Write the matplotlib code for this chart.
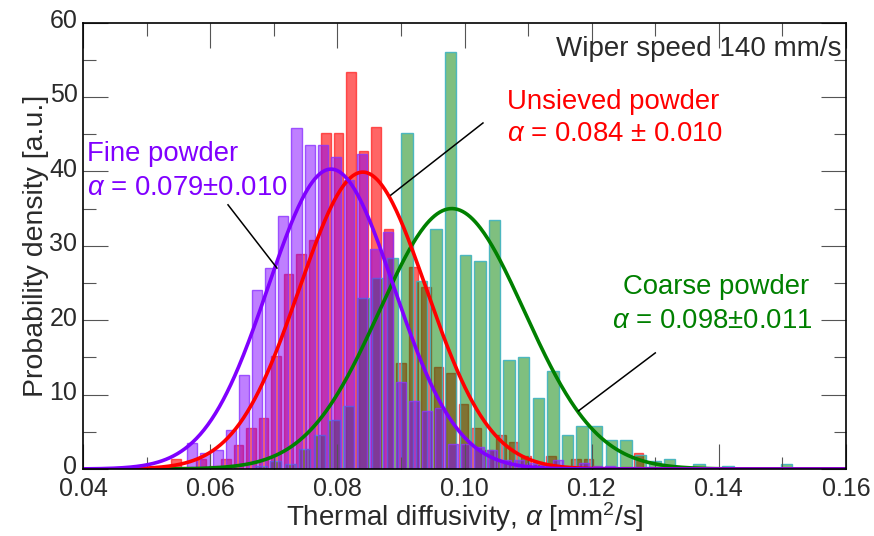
import numpy as np
import matplotlib.pyplot as plt
import matplotlib.transforms as mtransforms
from matplotlib.ticker import MultipleLocator

plt.rcParams['font.family'] = ['Liberation Sans', 'DejaVu Sans']
plt.rcParams['mathtext.fontset'] = 'custom'
plt.rcParams['mathtext.rm'] = 'Liberation Sans'
plt.rcParams['mathtext.it'] = 'Liberation Sans:italic'

# histogram data: first bin centre, bin width, bar heights
fine_start, fine_step = 0.05509, 0.002054
fine_hist = [0.3, 3.5, 2.2, 2.55, 5.2, 12.6, 24.0, 27.0, 34.0, 45.8, 43.5, 43.5,
             41.9, 38.8, 42.3, 29.6, 31.8, 11.7, 9.1, 7.8, 8.2, 3.4, 3.4, 3.0,
             2.55, 1.2, 1.2, 0.85, 0.6, 1.2, 0.4, 0.8, 0.4, 0.4, 0.2, 0.3, 0.3]

unsieved_start, unsieved_step = 0.05266, 0.001965
unsieved_hist = [0.3, 1.3, 0.3, 1.3, 0.4, 1.3, 3.2, 5.5, 6.8, 15.2, 26.2, 28.9,
                 30.8, 45.1, 45.1, 53.4, 42.7, 46.0, 32.2, 14.2, 27.1, 24.4, 13.75,
                 12.9, 8.7, 5.5, 2.6, 4.6, 3.6, 1.7, 0.5, 1.8, 0.3, 1.3, 1.3, 0.3,
                 0.3, 0.3, 2.2]

coarse_start, coarse_step = 0.06799, 0.002296
coarse_hist = [0.4, 1.1, 0.7, 2.7, 4.6, 6.6, 8.5, 23.0, 25.7, 28.3, 45.1, 25.2,
               32.2, 56.0, 28.7, 28.0, 33.4, 14.7, 15.1, 9.6, 13.2, 4.6, 5.8, 5.8,
               3.9, 3.9, 1.9, 1.1, 1.4, 0.3, 0.7, 0.0, 0.4, 0.0, 0.0, 0.0, 0.7]

# normal fits (mean, sd)
fine_fit = (0.079, 0.0099)
unsieved_fit = (0.084, 0.0100)
coarse_fit = (0.098, 0.0114)

purple = '#8000ff'
red = '#ff0000'
green = '#008000'

def centres(start, step, h):
    return start + step * np.arange(len(h))

def normal(x, mu, sd):
    return np.exp(-0.5 * ((x - mu) / sd) ** 2) / (sd * np.sqrt(2 * np.pi))

fig = plt.figure(figsize=(8.74, 5.36), dpi=100)
ax = fig.add_axes([0.095, 0.125, 0.873, 0.833])

ax.bar(centres(unsieved_start, unsieved_step, unsieved_hist), unsieved_hist,
       width=unsieved_step * 0.76, color=red, alpha=0.6, edgecolor=red, linewidth=1)
ax.bar(centres(coarse_start, coarse_step, coarse_hist), coarse_hist,
       width=coarse_step * 0.78, facecolor=(0, 0.5, 0, 0.5),
       edgecolor=(0.25, 0.7, 0.75, 0.9), linewidth=1)
ax.bar(centres(fine_start, fine_step, fine_hist), fine_hist,
       width=fine_step * 0.77, facecolor=(0.5, 0, 1, 0.5),
       edgecolor=(0.55, 0.2, 1, 0.8), linewidth=1)

x = np.linspace(0.04, 0.16, 600)
ax.plot(x, normal(x, *coarse_fit), color=green, lw=2.6)
ax.plot(x, normal(x, *unsieved_fit), color=red, lw=2.6)
ax.plot(x, normal(x, *fine_fit), color=purple, lw=2.6)

ax.set_xlim(0.04, 0.16)
ax.set_ylim(0, 60)
ax.xaxis.set_major_locator(MultipleLocator(0.02))
ax.xaxis.set_minor_locator(MultipleLocator(0.01))
ax.yaxis.set_major_locator(MultipleLocator(10))
ax.yaxis.set_minor_locator(MultipleLocator(5))
ax.set_xticks(np.arange(0.04, 0.161, 0.02))
ax.set_xticklabels(['0.04', '0.06', '0.08', '0.10', '0.12', '0.14', '0.16'])
ax.tick_params(which='both', direction='in', top=True, right=True,
               labelsize=18, labelcolor='#2a2a2a', color='#555555', width=0.8)
ax.tick_params(axis='x', pad=6)
ax.tick_params(axis='y', pad=4)
ax.tick_params(which='major', length=18)
ax.tick_params(which='minor', length=9)
for s in ax.spines.values():
    s.set_linewidth(1.2)

# nudge y tick labels up a little so "0" clears "0.04"
shift = mtransforms.ScaledTranslation(0, 3 / 72, fig.dpi_scale_trans)
for lab in ax.get_yticklabels():
    lab.set_transform(lab.get_transform() + shift)

ax.set_xlabel(r'Thermal diffusivity, $\mathit{\alpha}$ [mm$^2$/s]', fontsize=20,
              color='#2a2a2a', labelpad=-1)
ax.set_ylabel('Probability density [a.u.]', fontsize=20.5, color='#2a2a2a', labelpad=0)

ax.text(0.1593, 56.5, 'Wiper speed 140 mm/s', fontsize=20, color='#2a2a2a',
        ha='right', va='center')

ax.text(0.0406, 42.3, 'Fine powder', fontsize=19.8, color=purple, va='center')
ax.text(0.0406, 37.8, r'$\alpha$ = 0.079±0.010', fontsize=19.8, color=purple, va='center')
ax.text(0.1067, 49.3, 'Unsieved powder', fontsize=19.8, color=red, va='center')
ax.text(0.1067, 45.0, r'$\alpha$ = 0.084 ± 0.010', fontsize=19.8, color=red, va='center')
ax.text(0.1250, 24.5, 'Coarse powder', fontsize=19.8, color=green, va='center')
ax.text(0.1232, 19.9, r'$\alpha$ = 0.098±0.011', fontsize=19.8, color=green, va='center')

ax.plot([0.0628, 0.0705], [35.5, 27.0], color='black', lw=1.1)
ax.plot([0.1029, 0.0884], [46.5, 36.8], color='black', lw=1.1)
ax.plot([0.1300, 0.1179], [15.6, 7.8], color='black', lw=1.1)

fig.savefig('out.png', dpi=100)
